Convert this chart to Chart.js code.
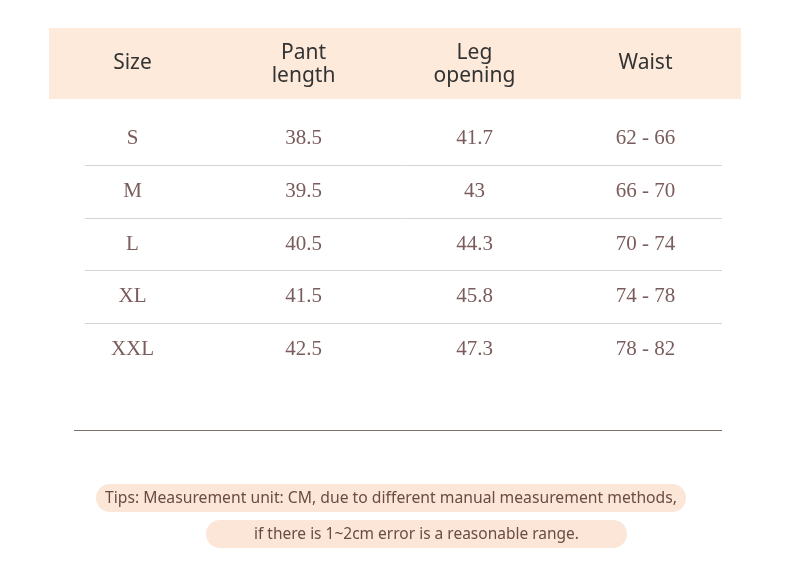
<!DOCTYPE html>
<html><head><meta charset="utf-8">
<script src="https://cdn.jsdelivr.net/npm/chart.js@4"></script>
<style>html,body{margin:0;background:#fff}#wrap{width:790px;height:565px}</style>
</head><body><div id="wrap"><canvas id="c" width="790" height="565"></canvas></div>
<script>
const columns  = ['Size', 'Pant length', 'Leg opening', 'Waist'];
const headers  = [['Size'], ['Pant', 'length'], ['Leg', 'opening'], ['Waist']];
const sizes    = ['S', 'M', 'L', 'XL', 'XXL'];
const pantLen  = ['38.5', '39.5', '40.5', '41.5', '42.5'];
const legOpen  = ['41.7', '43', '44.3', '45.8', '47.3'];
const waist    = ['62 - 66', '66 - 70', '70 - 74', '74 - 78', '78 - 82'];
const tips     = ['Tips: Measurement unit: CM, due to different manual measurement methods,',
                  'if there is 1~2cm error is a reasonable range.'];

const cells = [sizes, pantLen, legOpen, waist];
const points = [];
cells.forEach((col, ci) => col.forEach((v, ri) => points.push({ x: columns[ci], y: sizes[ri], t: v })));

function pill(ctx, x, y, w, h) {
  const r = h / 2;
  ctx.beginPath();
  ctx.moveTo(x + r, y);
  ctx.arcTo(x + w, y, x + w, y + h, r);
  ctx.arcTo(x + w, y + h, x, y + h, r);
  ctx.arcTo(x, y + h, x, y, r);
  ctx.arcTo(x, y, x + w, y, r);
  ctx.fill();
}

const tablePlugin = {
  id: 'table',
  afterDatasetsDraw(chart) {
    const { ctx, scales: { x, y } } = chart;
    ctx.save();
    // header band
    ctx.fillStyle = '#fdeadb';
    ctx.fillRect(49, 28, 692, 71);
    ctx.fillStyle = '#333';
    ctx.font = '21px "Noto Sans"';
    ctx.textAlign = 'center';
    ctx.textBaseline = 'middle';
    headers.forEach((lines, i) => {
      const px = x.getPixelForValue(columns[i]);
      if (lines.length === 1) ctx.fillText(lines[0], px, 63);
      else { ctx.fillText(lines[0], px, 53); ctx.fillText(lines[1], px, 76); }
    });
    // row separators
    ctx.strokeStyle = '#d6d3d3';
    ctx.lineWidth = 1;
    for (let i = 0; i < sizes.length - 1; i++) {
      const py = Math.round((y.getPixelForValue(sizes[i]) + y.getPixelForValue(sizes[i + 1])) / 2) + 0.5;
      ctx.beginPath(); ctx.moveTo(85, py); ctx.lineTo(722, py); ctx.stroke();
    }
    // cell values
    ctx.fillStyle = '#7a5c5c';
    ctx.font = '21px "Liberation Serif"';
    chart.data.datasets[0].data.forEach(p => {
      ctx.fillText(p.t, x.getPixelForValue(p.x), y.getPixelForValue(p.y));
    });
    // bottom rule
    ctx.strokeStyle = '#7b7368';
    ctx.beginPath(); ctx.moveTo(74, 430.5); ctx.lineTo(722, 430.5); ctx.stroke();
    // tips
    ctx.fillStyle = '#fce6d8';
    pill(ctx, 96, 484, 590, 28);
    pill(ctx, 206, 520, 421, 28);
    ctx.fillStyle = '#6a4c44';
    ctx.font = '16px "Noto Sans"';
    ctx.fillText(tips[0], 391, 498, 572);
    ctx.fillText(tips[1], 416.5, 534, 325);
    ctx.restore();
  }
};

new Chart(document.getElementById('c'), {
  type: 'scatter',
  data: { datasets: [{ data: points, pointRadius: 0 }] },
  options: {
    responsive: false,
    animation: false,
    layout: { padding: { left: 47, right: 59, top: 112, bottom: 189 } },
    plugins: { legend: { display: false }, tooltip: { enabled: false } },
    scales: {
      x: { type: 'category', labels: columns, offset: true, display: false },
      y: { type: 'category', labels: sizes, offset: true, display: false }
    }
  },
  plugins: [tablePlugin]
});
</script></body></html>
